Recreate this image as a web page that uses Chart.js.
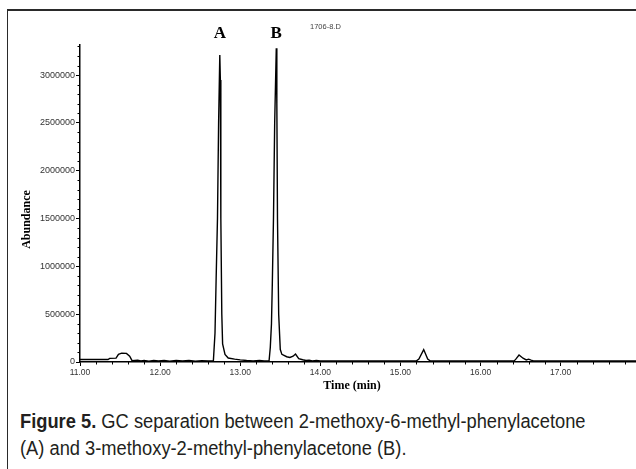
<!DOCTYPE html>
<html>
<head>
<meta charset="utf-8">
<script src="https://cdn.jsdelivr.net/npm/chart.js@4.4.1/dist/chart.umd.min.js"></script>
<style>
  html, body { margin: 0; padding: 0; background: #fff; }
  body { width: 636px; height: 469px; position: relative; overflow: hidden; }
  .frame { position: absolute; left: 7px; top: 9px; right: -4px; bottom: -4px; border-top: 2px solid #2a2a2a; border-left: 1px solid #2a2a2a; }
  .plot { position: absolute; left: 0; top: 0; width: 636px; height: 400px; }
  .caption { position: absolute; left: 20px; top: 408px; white-space: nowrap; font-family: "Liberation Sans", Arial, sans-serif; font-size: 20px; line-height: 27px; color: #231f20; transform: scaleX(0.915); transform-origin: 0 0; }
</style>
</head>
<body>
<div class="frame"></div>
<div class="plot"><canvas id="gc-chart"></canvas></div>
<div class="caption"><b>Figure 5.</b> GC separation between 2-methoxy-6-methyl-phenylacetone<br>(A) and 3-methoxy-2-methyl-phenylacetone (B).</div>

<script>
// ---- chromatogram trace (time in min, abundance) ----
const retentionTimes = [
    11.00, 11.35, 11.37, 11.45, 11.48, 11.52, 11.58, 11.62, 11.65,
    11.72, 11.76, 11.80, 11.86, 11.92, 11.98, 12.05, 12.12, 12.20, 12.28, 12.36, 12.44, 12.52, 12.60, 12.665,
    12.685, 12.70, 12.716, 12.73, 12.745, 12.752, 12.758, 12.77, 12.78, 12.81, 12.85, 12.93, 13.00, 13.08, 13.16, 13.24, 13.30, 13.36,
    13.375, 13.39, 13.40, 13.415, 13.43, 13.45, 13.457, 13.465, 13.48, 13.50, 13.52, 13.58, 13.62, 13.66, 13.69, 13.73, 13.78, 13.82, 13.86, 13.90,
    13.95, 14.00, 14.50, 15.00, 15.20, 15.23, 15.29, 15.34, 15.37, 15.80, 16.20, 16.42, 16.44, 16.48, 16.53, 16.57, 16.60, 16.63, 16.66, 17.20, 17.94
];
const abundance = [
    26000, 26000, 38000, 40000, 80000, 92000, 90000, 60000, 14000,
    18000, 10000, 16000, 9000, 17000, 10000, 15000, 9000, 17000, 11000, 16000, 9000, 14000, 10000, 14000,
    300000, 900000, 1500000, 2500000, 3209000, 2950000, 1500000, 500000, 190000, 80000, 42000, 30000, 22000, 16000, 12000, 15000, 11000, 13000,
    150000, 400000, 800000, 1500000, 2500000, 3280000, 2700000, 1500000, 500000, 130000, 80000, 55000, 48000, 60000, 83000, 35000, 24000, 16000, 20000, 12000,
    17000, 12000, 12000, 12000, 12000, 30000, 130000, 30000, 12000, 12000, 12000, 12000, 30000, 73000, 40000, 22000, 30000, 20000, 12000, 12000, 12000
];

// axes
const xMin = 11, xMax = 17.94, xMinorStep = 0.2;
const xTickValues = [11, 12, 13, 14, 15, 16, 17];
const yMax = 3315000, yMinorStep = 100000;
const yTickValues = [0, 500000, 1000000, 1500000, 2000000, 2500000, 3000000];

// labels
const peakNames = ['A', 'B'];
const peakTimes = [12.745, 13.45];
const fileLabel = '1706-8.D';
const xTitle = 'Time (min)';
const yTitle = 'Abundance';

const chromExtras = {
    id: 'chromExtras',
    afterDraw(chart) {
        const { ctx, chartArea, scales: { x, y } } = chart;
        ctx.save();

        // minor tick marks
        ctx.strokeStyle = '#000';
        ctx.lineWidth = 1;
        ctx.beginPath();
        for (let i = 1; i * yMinorStep <= yMax; i++) {
            if (i % 5 === 0) continue;
            const py = Math.round(y.getPixelForValue(i * yMinorStep)) + 0.5;
            ctx.moveTo(chartArea.left - 2.5, py);
            ctx.lineTo(chartArea.left, py);
        }
        for (let i = 1; xMin + i * xMinorStep <= xMax + 1e-9; i++) {
            if (i % 5 === 0) continue;
            const px = Math.round(x.getPixelForValue(xMin + i * xMinorStep)) + 0.5;
            ctx.moveTo(px, chartArea.bottom);
            ctx.lineTo(px, chartArea.bottom + 2.5);
        }
        ctx.stroke();

        // peak letters
        ctx.fillStyle = '#000';
        ctx.textAlign = 'center';
        ctx.textBaseline = 'alphabetic';
        ctx.font = 'bold 17px "Liberation Serif", serif';
        peakNames.forEach((n, i) => ctx.fillText(n, x.getPixelForValue(peakTimes[i]), 38));

        // data file tag
        ctx.textAlign = 'left';
        ctx.textBaseline = 'middle';
        ctx.fillStyle = '#444';
        ctx.font = '7.5px "Liberation Sans", sans-serif';
        ctx.fillText(fileLabel, chartArea.left + 230, 27);

        // axis titles
        ctx.fillStyle = '#000';
        ctx.font = 'bold 12px "Liberation Serif", serif';
        ctx.textAlign = 'center';
        ctx.fillText(xTitle, 352, chartArea.bottom + 24);
        ctx.translate(chartArea.left - 53, (chartArea.top + chartArea.bottom) / 2 + 16);
        ctx.rotate(-Math.PI / 2);
        ctx.fillText(yTitle, 0, 0);
        ctx.restore();
    }
};

new Chart(document.getElementById('gc-chart'), {
    type: 'line',
    data: {
        datasets: [{
            data: retentionTimes.map((t, i) => ({ x: t, y: abundance[i] })),
            borderColor: '#000',
            borderWidth: 1.4,
            pointRadius: 0,
            tension: 0,
            fill: false
        }]
    },
    options: {
        responsive: true,
        maintainAspectRatio: false,
        animation: false,
        layout: { padding: { top: 45, left: 0, right: 0, bottom: 0 } },
        plugins: { legend: { display: false }, tooltip: { enabled: false } },
        scales: {
            x: {
                type: 'linear', min: xMin, max: xMax,
                ticks: { autoSkip: false, maxRotation: 0, padding: 2, color: '#333',
                    font: { family: 'Liberation Sans', size: 8.5 }, callback: v => v.toFixed(2) },
                afterBuildTicks: s => { s.ticks = xTickValues.map(v => ({ value: v })); },
                grid: { drawOnChartArea: false, drawTicks: true, tickLength: 4, color: '#000' },
                border: { display: true, color: '#000', width: 1.5 },
                afterFit: s => { s.height = 38; }
            },
            y: {
                type: 'linear', min: 0, max: yMax,
                ticks: { autoSkip: false, padding: 1, color: '#333',
                    font: { family: 'Liberation Sans', size: 9 }, callback: v => String(v) },
                afterBuildTicks: s => { s.ticks = yTickValues.map(v => ({ value: v })); },
                grid: { drawOnChartArea: false, drawTicks: true, tickLength: 4, color: '#000' },
                border: { display: true, color: '#000', width: 1.5 },
                afterFit: s => { s.width = 80; }
            }
        }
    },
    plugins: [chromExtras]
});
</script>
</body>
</html>
